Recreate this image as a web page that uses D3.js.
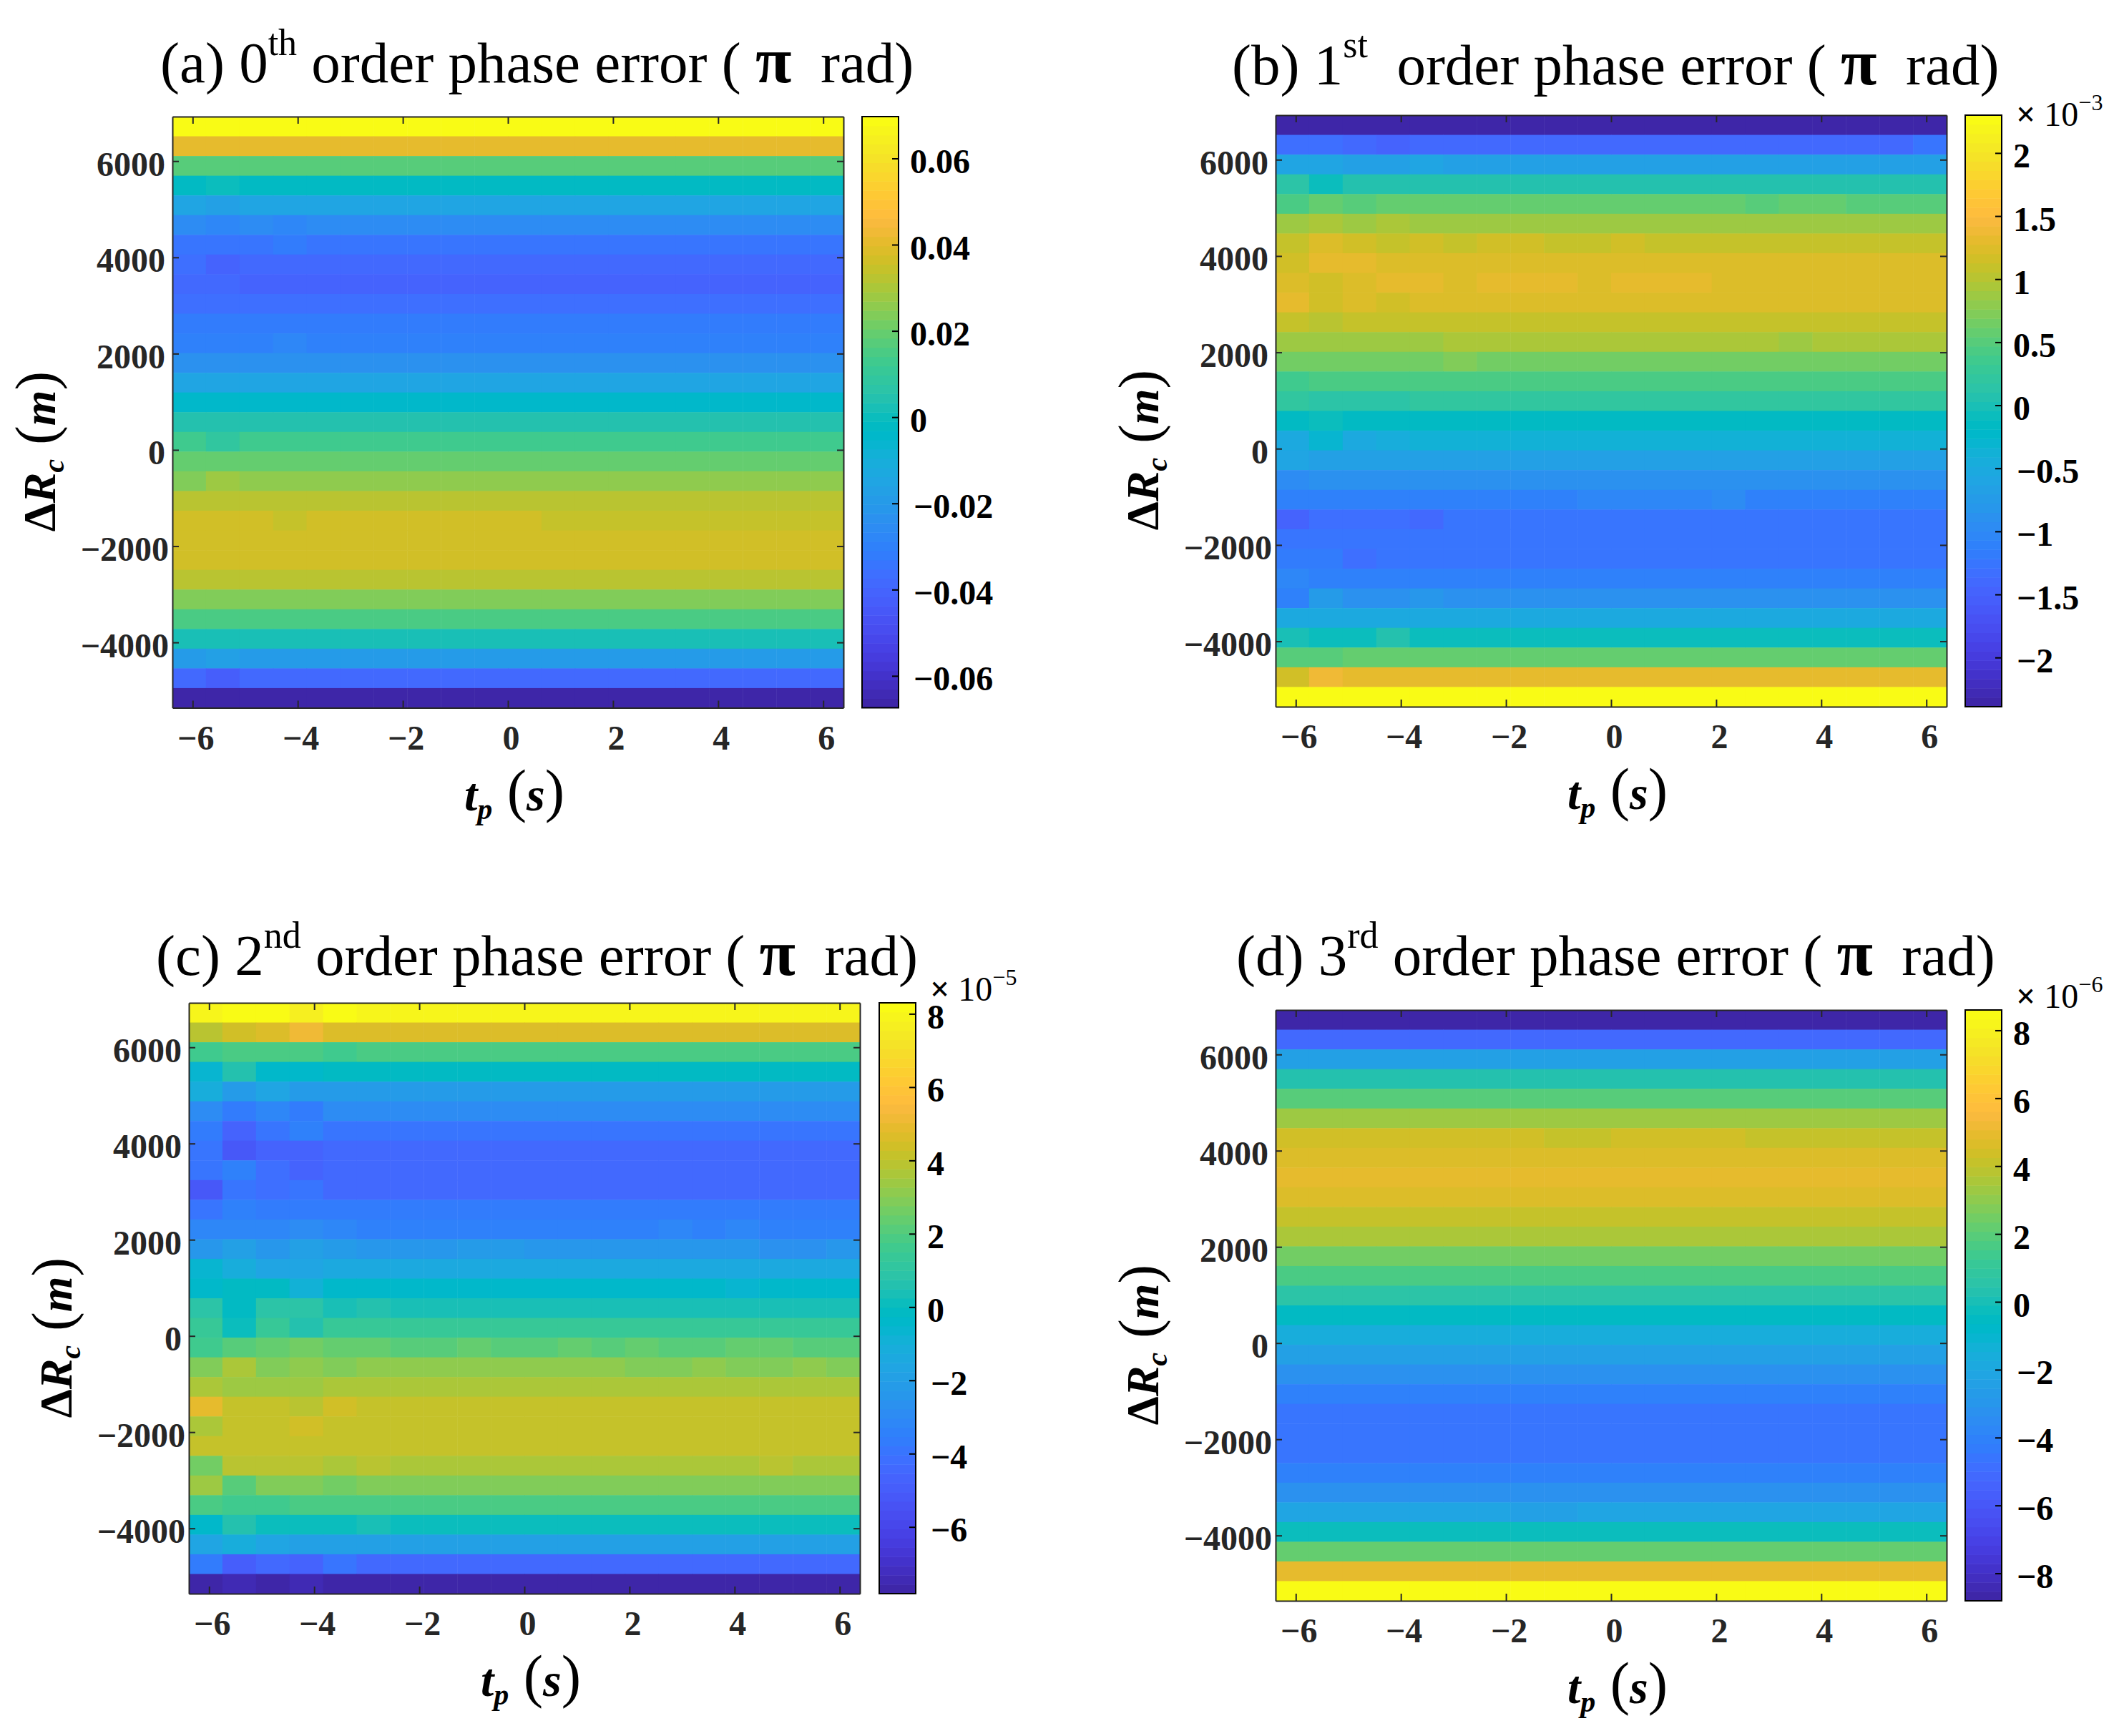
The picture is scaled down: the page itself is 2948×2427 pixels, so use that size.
<!DOCTYPE html>
<html>
<head>
<meta charset="utf-8">
<script src="https://cdn.jsdelivr.net/npm/d3@7"></script>
<style>
  body { margin: 0; background: #fff; }
  svg { display: block; }
  text { font-family: "Liberation Serif", serif; }
</style>
</head>
<body>
<div id="chart"></div>
<script>
// tick labels
var tpTicks = [-6, -4, -2, 0, 2, 4, 6];
var rangeTicks = [-4000, -2000, 0, 2000, 4000, 6000];
var colorTicksA = [-0.06, -0.04, -0.02, 0, 0.02, 0.04, 0.06];
var colorTicksB = [-2, -1.5, -1, -0.5, 0, 0.5, 1, 1.5, 2];
var colorTicksC = [-6, -4, -2, 0, 2, 4, 6, 8];
var colorTicksD = [-8, -6, -4, -2, 0, 2, 4, 6, 8];

// colour limits, in the units of the colorbar
var climA = [-0.0674, 0.0697];
var climB = [-2.39, 2.30];
var climC = [-7.82, 8.30];
var climD = [-8.81, 8.60];

// value of each row, top row first. Most cells in a row share it
var rowsA = [0.0697, 0.0408, 0.0172, -0.0021, -0.0149, -0.0256, -0.0342, -0.0385, -0.0406, -0.0363,
  -0.0321, -0.0299, -0.0235, -0.0149, -0.0042, 0.0044, 0.0129, 0.0193, 0.0258, 0.0322,
  0.0365, 0.0365, 0.0365, 0.0322, 0.0236, 0.0151, 0.0022, -0.0192, -0.0385, -0.0674];
var rowsB = [-2.39, -1.40, -0.67, 0.07, 0.58, 0.87, 1.09, 1.24, 1.24, 1.24,
  1.09, 0.95, 0.65, 0.43, 0.21, -0.15, -0.37, -0.67, -0.89, -1.11,
  -1.25, -1.25, -1.25, -1.11, -0.89, -0.52, -0.08, 0.58, 1.31, 2.30];
var rowsC = [7.93, 4.66, 1.89, -0.13, -2.15, -2.90, -3.91, -4.41, -4.41, -4.41,
  -3.66, -3.41, -2.40, -1.39, -0.38, 0.37, 1.38, 2.14, 3.15, 3.65,
  4.15, 4.15, 4.15, 3.65, 2.89, 1.89, 0.12, -1.89, -4.41, -7.69];
var rowsD = [-8.81, -5.13, -2.41, 0.31, 1.94, 3.30, 4.39, 4.66, 4.93, 4.66,
  4.11, 3.57, 2.48, 1.67, 0.58, -0.51, -1.60, -2.41, -3.23, -4.05,
  -4.59, -4.59, -4.59, -4.05, -3.23, -2.14, -0.24, 2.21, 4.93, 8.60];

// cells that differ from their row: [row, first column, last column, value]
var cellsA = [[3,1,1,0.0001], [4,1,1,-0.0171], [5,1,1,-0.0278], [5,3,3,-0.0278], [6,3,3,-0.0321],
  [7,0,0,-0.0363], [7,1,1,-0.0406], [8,0,1,-0.0385], [11,3,3,-0.0278], [16,1,1,0.0087],
  [18,0,0,0.0236], [18,1,1,0.0279], [20,3,3,0.0344], [20,11,19,0.0344], [27,1,1,-0.0171], [28,1,1,-0.0428]];
var cellsB = [[1,0,1,-1.33], [1,3,3,-1.47], [1,19,19,-1.25], [2,0,1,-0.59], [2,4,4,-0.59],
  [3,0,0,0.14], [3,1,1,-0.08], [4,0,0,0.43], [4,2,2,0.51], [4,14,14,0.51], [4,17,17,0.51], [4,18,19,0.51],
  [5,1,1,0.95], [5,3,3,0.95], [6,1,1,1.24], [6,2,2,1.17], [6,4,4,1.17], [6,6,7,1.17], [6,10,10,1.17],
  [7,0,0,1.17], [7,1,2,1.31], [8,1,1,1.17], [8,3,4,1.31], [8,6,8,1.31], [8,10,12,1.31],
  [9,0,0,1.31], [9,1,1,1.17], [9,3,3,1.17], [10,1,1,1.02], [11,0,4,0.87], [11,15,15,0.87], [12,5,5,0.73],
  [13,0,0,0.36], [14,1,3,0.14], [15,1,1,-0.08], [16,0,0,-0.52], [16,1,1,-0.30], [16,2,2,-0.52], [16,3,3,-0.45],
  [17,0,0,-0.59], [18,0,0,-0.96], [19,9,12,-1.03], [19,13,13,-0.96], [20,0,0,-1.47], [20,1,3,-1.33], [20,4,4,-1.40],
  [22,0,1,-1.18], [22,2,2,-1.33], [23,0,0,-1.03], [24,0,0,-1.11], [24,1,1,-0.74], [24,4,4,-0.81],
  [26,0,0,-0.01], [26,3,3,0.07], [27,0,1,0.51], [28,0,0,1.17], [28,1,1,1.38]];
var cellsC = [[0,1,2,8.18], [0,3,3,7.68], [0,4,4,8.18], [1,0,0,3.90], [1,1,1,4.41], [1,3,3,5.16],
  [2,0,0,1.63], [2,4,4,1.63], [3,0,0,-0.63], [3,1,1,0.63], [3,2,3,-0.38], [4,0,0,-1.14], [4,2,2,-1.64],
  [5,1,1,-3.66], [5,2,2,-3.15], [5,3,3,-3.66], [6,0,0,-3.66], [6,1,1,-4.67], [6,3,3,-3.41],
  [7,0,0,-3.91], [7,1,1,-5.17], [7,2,3,-4.67], [8,0,0,-3.91], [8,1,1,-3.41], [8,2,2,-4.16], [8,3,3,-4.67],
  [9,0,0,-5.17], [9,1,1,-3.91], [9,2,2,-4.16], [9,3,3,-3.91], [10,0,0,-3.91], [10,1,1,-3.41],
  [11,0,2,-3.15], [11,3,3,-2.90], [11,4,4,-3.15], [11,14,14,-3.15], [11,16,16,-3.15],
  [12,1,1,-1.89], [12,3,3,-1.89], [12,4,4,-2.15], [12,8,9,-2.15], [12,17,18,-2.65],
  [13,0,0,-0.63], [13,1,1,-1.14], [13,2,3,-1.64], [14,1,2,-0.13], [14,3,3,-0.89], [14,16,16,-0.63],
  [15,0,0,0.88], [15,1,1,-0.13], [15,2,3,0.88], [15,5,5,0.63], [16,1,1,0.12], [16,3,3,0.63],
  [17,0,0,1.63], [17,2,2,2.39], [17,3,3,2.64], [17,4,5,2.39], [17,8,8,2.39],
  [17,11,11,2.39], [17,13,13,2.39], [17,16,17,2.39],
  [18,0,0,2.89], [18,1,1,3.65], [18,2,2,2.89], [18,4,4,2.89], [18,13,14,2.89], [18,16,17,2.89], [18,19,19,2.89],
  [19,1,3,3.40], [20,0,0,4.91], [20,3,3,3.90], [20,4,4,4.41], [21,0,0,3.65], [21,3,3,4.41],
  [23,0,0,2.64], [23,1,3,3.90], [23,5,5,3.90], [23,17,17,3.90], [24,0,0,3.40], [24,1,1,2.14], [24,4,4,2.64],
  [25,1,2,1.63], [26,0,0,-0.38], [26,1,1,0.63], [26,5,5,0.37], [27,0,0,-1.64], [27,1,1,-1.14], [27,2,2,-1.64],
  [28,0,0,-3.66], [28,1,1,-4.92], [28,3,3,-4.67], [28,4,4,-3.91], [29,1,1,-7.44], [29,3,3,-7.44]];
var cellsD = [[6,8,9,4.11], [6,14,19,4.11], [25,7,8,-2.41]];

// parula, 64 levels, as rgb fractions
var parula = [[.2422,.1504,.6603],[.2504,.1650,.7076],[.2578,.1818,.7511],[.2647,.1978,.7952],
  [.2706,.2147,.8364],[.2751,.2342,.8710],[.2783,.2559,.8991],[.2803,.2782,.9221],
  [.2813,.3006,.9414],[.2810,.3228,.9579],[.2795,.3447,.9717],[.2760,.3667,.9829],
  [.2699,.3892,.9906],[.2602,.4123,.9952],[.2440,.4358,.9988],[.2206,.4603,.9973],
  [.1963,.4847,.9892],[.1834,.5074,.9798],[.1786,.5289,.9682],[.1764,.5499,.9520],
  [.1687,.5703,.9359],[.1540,.5902,.9218],[.1460,.6091,.9079],[.1380,.6276,.8973],
  [.1248,.6459,.8883],[.1113,.6635,.8763],[.0952,.6798,.8598],[.0689,.6948,.8394],
  [.0297,.7082,.8163],[.0036,.7203,.7917],[.0067,.7312,.7660],[.0433,.7411,.7394],
  [.0964,.7500,.7120],[.1408,.7584,.6842],[.1717,.7670,.6554],[.1938,.7758,.6251],
  [.2161,.7843,.5923],[.2470,.7918,.5567],[.2906,.7973,.5188],[.3406,.8008,.4789],
  [.3909,.8029,.4354],[.4456,.8024,.3909],[.5044,.7993,.3480],[.5616,.7942,.3045],
  [.6174,.7876,.2612],[.6720,.7793,.2227],[.7242,.7698,.1910],[.7738,.7598,.1646],
  [.8203,.7498,.1535],[.8634,.7406,.1596],[.9035,.7330,.1774],[.9393,.7288,.2100],
  [.9728,.7298,.2394],[.9956,.7434,.2371],[.9970,.7659,.2199],[.9952,.7893,.2028],
  [.9892,.8136,.1885],[.9786,.8386,.1766],[.9676,.8639,.1643],[.9610,.8890,.1537],
  [.9597,.9135,.1423],[.9628,.9373,.1265],[.9691,.9606,.1064],[.9769,.9839,.0805]]
  .map(function(c) { return d3.rgb(c[0] * 255, c[1] * 255, c[2] * 255).formatHex(); });

var width = 2948, height = 2427;
var tpDomain = [-6.385, 6.385];
var rangeDomain = [-5358, 6925];
var rowCount = 30, colCount = 20;

var panels = [
  { left: 241, top: 163, bottom: 989.5, cbLeft: 1205, titleX: 224, titleY: 115, label: "(a) 0", sup: "th", rest: " order phase error ( ",
    rows: rowsA, cells: cellsA, clim: climA, colorTicks: colorTicksA },
  { left: 1783, top: 161, bottom: 988, cbLeft: 2747, titleX: 1722, titleY: 118, label: "(b) 1", sup: "st", rest: "  order phase error ( ",
    rows: rowsB, cells: cellsB, clim: climB, colorTicks: colorTicksB, exponent: "−3", expY: 176 },
  { left: 264, top: 1402, bottom: 2228, cbLeft: 1229, titleX: 218, titleY: 1363, label: "(c) 2", sup: "nd", rest: " order phase error ( ",
    rows: rowsC, cells: cellsC, clim: climC, colorTicks: colorTicksC, exponent: "−5", expY: 1399 },
  { left: 1783, top: 1412, bottom: 2238, cbLeft: 2747, titleX: 1728, titleY: 1363, label: "(d) 3", sup: "rd", rest: " order phase error ( ",
    rows: rowsD, cells: cellsD, clim: climD, colorTicks: colorTicksD, exponent: "−6", expY: 1409 }
];

var svg = d3.select("#chart").append("svg")
  .attr("width", width)
  .attr("height", height);

// plain numbers, no thousands comma and no padded decimals
function plainTick(d) {
  return String(d).replace("-", "−");
}

// one row value per cell, then the cells that stand out
function buildGrid(rows, cells) {
  var grid = [];
  rows.forEach(function(v, r) {
    d3.range(colCount).forEach(function(c) {
      grid.push({ r: r, c: c, v: v });
    });
  });
  cells.forEach(function(p) {
    d3.range(p[1], p[2] + 1).forEach(function(c) {
      grid[p[0] * colCount + c].v = p[3];
    });
  });
  return grid;
}

function styleAxis(g) {
  g.select(".domain").attr("stroke", "#262626").attr("stroke-width", 2);
  g.selectAll(".tick line").attr("stroke", "#262626").attr("stroke-width", 2);
  g.selectAll("text")
    .attr("font-size", 48)
    .attr("font-weight", "bold")
    .attr("font-family", "Liberation Serif")
    .attr("fill", "#262626");
}

function drawPanel(p) {
  var plotW = 938, cbW = 51;
  var x = d3.scaleLinear().domain(tpDomain).range([p.left, p.left + plotW]);
  var y = d3.scaleLinear().domain(rangeDomain).range([p.bottom, p.top]);
  var color = d3.scaleQuantize().domain(p.clim).range(parula);

  var colStep = (tpDomain[1] - tpDomain[0]) / colCount;
  var rowStep = (rangeDomain[1] - rangeDomain[0]) / rowCount;

  // heat map cells
  svg.append("g").selectAll("rect")
    .data(buildGrid(p.rows, p.cells))
    .enter()
    .append("rect")
    .attr("x", function(d) { return x(tpDomain[0] + d.c * colStep); })
    .attr("y", function(d) { return y(rangeDomain[1] - d.r * rowStep); })
    .attr("width", x(tpDomain[0] + colStep) - x(tpDomain[0]) + 0.5)
    .attr("height", y(rangeDomain[1] - rowStep) - y(rangeDomain[1]) + 0.5)
    .attr("fill", function(d) { return color(d.v); });

  // box with inward ticks on all four sides
  svg.append("g").attr("transform", "translate(0," + p.bottom + ")")
    .call(d3.axisBottom(x).tickValues(tpTicks).tickFormat(plainTick).tickSizeInner(-10).tickSizeOuter(0).tickPadding(24))
    .call(styleAxis)
    .selectAll("text").attr("dx", 4);
  svg.append("g").attr("transform", "translate(0," + p.top + ")")
    .call(d3.axisTop(x).tickValues(tpTicks).tickSizeInner(-10).tickSizeOuter(0).tickFormat(""))
    .call(styleAxis);
  svg.append("g").attr("transform", "translate(" + p.left + ",0)")
    .call(d3.axisLeft(y).tickValues(rangeTicks).tickFormat(plainTick).tickSizeInner(-9).tickSizeOuter(0).tickPadding(10))
    .call(styleAxis)
    .selectAll("text")
    .attr("dy", 20)
    .attr("dx", function(d) { return d < 0 ? 5 : 0; });
  svg.append("g").attr("transform", "translate(" + (p.left + plotW) + ",0)")
    .call(d3.axisRight(y).tickValues(rangeTicks).tickSizeInner(-9).tickSizeOuter(0).tickFormat(""))
    .call(styleAxis);

  // title
  var title = svg.append("text")
    .attr("x", p.titleX)
    .attr("y", p.titleY)
    .attr("font-size", 81)
    .style("white-space", "pre")
    .attr("fill", "#000");
  title.append("tspan").text(p.label);
  title.append("tspan").attr("font-size", 52).attr("dy", -38).text(p.sup);
  title.append("tspan").attr("dy", 38).text(p.rest);
  title.append("tspan").attr("font-size", 92).attr("font-weight", "bold").text("π");
  title.append("tspan").text("  rad)");

  // axis labels
  var xl = svg.append("text")
    .attr("x", p.left + plotW / 2 + 9)
    .attr("y", p.bottom + 143)
    .attr("text-anchor", "middle")
    .attr("font-size", 66)
    .style("white-space", "pre");
  xl.append("tspan").attr("font-weight", "bold").attr("font-style", "italic").text("t");
  xl.append("tspan").attr("font-size", 42).attr("font-style", "italic").attr("font-weight", "bold").attr("dy", 12).text("p");
  xl.append("tspan").attr("font-size", 82).attr("dy", -12).text(" (");
  xl.append("tspan").attr("font-weight", "bold").attr("font-style", "italic").text("s");
  xl.append("tspan").attr("font-size", 82).text(")");

  var yl = svg.append("text")
    .attr("transform", "translate(" + (p.left - 164) + "," + (p.top + 468) + ") rotate(-90)")
    .attr("text-anchor", "middle")
    .attr("font-size", 64)
    .style("white-space", "pre");
  yl.append("tspan").attr("font-weight", "bold").text("Δ");
  yl.append("tspan").attr("font-weight", "bold").attr("font-style", "italic").text("R");
  yl.append("tspan").attr("font-size", 42).attr("font-style", "italic").attr("font-weight", "bold").attr("dy", 12).text("c");
  yl.append("tspan").attr("font-size", 80).attr("dy", -12).text(" (");
  yl.append("tspan").attr("font-weight", "bold").attr("font-style", "italic").text("m");
  yl.append("tspan").attr("font-size", 80).text(")");

  // colorbar, one band per colormap level
  var cy = d3.scaleLinear().domain(p.clim).range([p.bottom, p.top]);
  svg.append("g").selectAll("rect")
    .data(parula)
    .enter()
    .append("rect")
    .attr("x", p.cbLeft)
    .attr("width", cbW)
    .attr("y", function(d) { return cy(color.invertExtent(d)[1]); })
    .attr("height", function(d) { return cy(color.invertExtent(d)[0]) - cy(color.invertExtent(d)[1]) + 0.5; })
    .attr("fill", function(d) { return d; });
  svg.append("rect")
    .attr("x", p.cbLeft)
    .attr("y", p.top)
    .attr("width", cbW)
    .attr("height", p.bottom - p.top)
    .attr("fill", "none")
    .attr("stroke", "#000")
    .attr("stroke-width", 2);

  svg.append("g").attr("transform", "translate(" + (p.cbLeft + cbW) + ",0)")
    .call(d3.axisRight(cy).tickValues(p.colorTicks).tickFormat(plainTick).tickSizeInner(-9).tickSizeOuter(0).tickPadding(16))
    .call(styleAxis)
    .call(function(g) {
      g.select(".domain").remove();
      g.selectAll(".tick line").attr("stroke", "#000");
      g.selectAll("text")
        .attr("fill", "#000")
        .attr("dy", 20)
        .attr("dx", function(d) { return d < 0 ? 5 : 0; });
    });

  if (p.exponent) {
    var ex = svg.append("text")
      .attr("x", p.cbLeft + 71)
      .attr("y", p.expY)
      .attr("font-size", 48)
      .attr("font-weight", "bold")
      .style("white-space", "pre");
    ex.append("tspan").text("× ");
    ex.append("tspan").attr("font-weight", "normal").text("10");
    ex.append("tspan").attr("font-size", 32).attr("font-weight", "normal").attr("dy", -22).text(p.exponent);
  }
}

panels.forEach(drawPanel);
</script>
</body>
</html>
